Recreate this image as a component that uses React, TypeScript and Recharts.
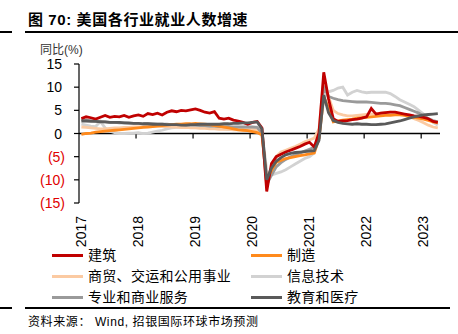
import { LineChart, Line, XAxis, YAxis, ReferenceLine } from "recharts";

// monthly, 2017-01 .. 2023-04, yoy %
const START_YEAR = 2017;
const YEAR_TICKS = [2017, 2018, 2019, 2020, 2021, 2022, 2023];
const Y_TICKS = [-15, -10, -5, 0, 5, 10, 15];

const construction = [
  3.2, 3.6, 3.4, 3.1, 3.5, 3.9, 3.5, 3.7, 3.6, 3.9, 3.5, 3.8,
  4.0, 3.7, 4.3, 4.1, 4.4, 4.0, 4.6, 4.9, 4.7, 5.0, 4.9, 5.1,
  5.3, 5.0, 4.6, 4.4, 4.7, 3.3, 3.1, 3.3, 2.9, 2.7, 2.4, 2.0,
  2.4, 2.6, 1.2, -12.5, -6.5, -5.0, -4.5, -4.0, -3.6, -3.2, -2.8, -2.3,
  -1.9, -2.9, 0.2, 13.2, 7.5, 3.2, 2.6, 2.7, 2.8, 3.0, 3.1, 3.3,
  3.6, 5.4, 4.2, 4.4, 4.5, 4.6, 4.6, 4.4, 4.2, 4.0, 3.8, 3.7,
  3.5, 3.2, 2.6, 2.4,
];

const manufacturing = [
  -0.2, 0.0, 0.1, 0.3, 0.4, 0.5, 0.6, 0.7, 0.8, 0.9, 1.0, 1.1,
  1.2, 1.3, 1.4, 1.5, 1.6, 1.7, 1.8, 1.9, 2.0, 2.0, 2.1, 2.1,
  2.2, 2.1, 2.0, 1.9, 1.7, 1.6, 1.4, 1.2, 1.0, 0.8, 0.7, 0.6,
  0.4, 0.2, -0.3, -10.0, -8.0, -6.2, -5.8, -5.4, -5.2, -5.0, -4.8, -4.6,
  -4.4, -4.2, -1.0, 8.0, 5.5, 2.5, 2.7, 2.9, 3.0, 3.1, 3.3, 3.4,
  3.5, 3.6, 3.7, 3.8, 3.9, 3.9, 4.0, 4.0, 3.9, 3.7, 3.5, 3.3,
  3.1, 2.8, 2.5, 2.3,
];

const tradeTransport = [
  1.4, 1.3, 1.2, 1.1, 1.0, 1.0, 1.1, 1.2, 1.2, 1.3, 1.3, 1.4,
  1.4, 1.5, 1.5, 1.6, 1.6, 1.5, 1.5, 1.4, 1.4, 1.3, 1.3, 1.2,
  1.2, 1.1, 1.1, 1.0, 1.0, 0.9, 0.9, 0.9, 0.8, 0.8, 0.8, 0.8,
  0.9, 0.8, 0.2, -11.5, -7.5, -5.0, -4.0, -3.6, -3.2, -2.8, -2.3, -1.8,
  -1.4, -1.0, 1.0, 11.4, 8.0, 5.0, 4.3, 4.0, 3.8, 3.8, 3.9, 4.0,
  4.1, 4.2, 4.3, 4.4, 4.5, 4.6, 4.5, 4.3, 4.0, 3.6, 3.2, 2.8,
  2.3, 1.8, 1.4, 1.2,
];

const infoTech = [
  2.0, 1.8, 1.6, 1.5, 2.6, 1.2, 0.5, 0.2, 0.0, 0.0, 0.1, 0.1,
  0.2, 0.0, 0.1, 0.3, 0.5, 0.7, 1.0, 1.2, 1.3, 1.4, 1.5, 1.6,
  1.5, 1.4, 1.3, 1.2, 1.3, 1.2, 1.0, 0.9, 1.0, 1.1, 1.0, 1.2,
  1.3, 1.4, 0.5, -8.0, -9.0, -8.6, -8.3, -7.8, -7.2, -6.6, -6.0, -5.4,
  -5.0, -4.2, -1.0, 7.5, 9.0, 9.3, 9.8, 10.0, 8.3, 8.9, 9.3, 9.0,
  8.8, 8.9, 8.9, 8.9, 8.9, 8.6, 8.0, 7.3, 6.8, 6.3, 5.8, 5.0,
  4.2, 3.2, 2.4, 1.8,
];

const profBusiness = [
  3.0, 2.9, 2.8, 2.7, 2.6, 2.5, 2.4, 2.4, 2.3, 2.3, 2.2, 2.2,
  2.2, 2.1, 2.1, 2.1, 2.0, 2.0, 2.0, 1.9, 1.9, 1.9, 1.8, 1.8,
  1.8, 1.7, 1.7, 1.6, 1.6, 1.5, 1.5, 1.5, 1.4, 1.4, 1.4, 1.4,
  1.4, 1.3, 0.0, -11.0, -9.0, -7.2, -6.3, -5.6, -5.0, -4.6, -4.2, -3.8,
  -3.4, -3.0, -1.0, 10.0, 8.0, 7.6, 7.3, 7.1, 7.0, 6.9, 6.8, 6.8,
  6.8, 6.7, 6.6, 6.5, 6.5, 6.4, 6.2, 6.0, 5.6, 5.2, 4.8, 4.4,
  3.8, 3.2, 2.8, 2.5,
];

const eduHealth = [
  2.7, 2.7, 2.6, 2.6, 2.5, 2.5, 2.4, 2.4, 2.4, 2.3, 2.3, 2.2,
  2.2, 2.1, 2.1, 2.0, 2.0, 2.0, 1.9, 1.9, 1.9, 1.8, 1.8, 1.9,
  1.9, 2.0, 2.0, 2.0, 2.0, 2.0, 2.1, 2.1, 2.2, 2.2, 2.3, 2.3,
  2.4, 2.5, 1.0, -10.0, -7.5, -6.0, -5.2, -4.6, -4.3, -4.1, -4.0, -3.9,
  -3.8, -3.7, -1.5, 8.3, 4.5, 2.8, 2.4, 2.2, 2.1, 2.0, 2.1, 2.0,
  2.0, 1.9, 1.9, 2.0, 2.1, 2.3, 2.5, 2.7, 3.0, 3.3, 3.6, 3.8,
  4.0, 4.1, 4.2, 4.3,
];

const SERIES = [
  { key: "infoTech", name: "信息技术", color: "#d2d2d2", values: infoTech },
  { key: "tradeTransport", name: "商贸、交运和公用事业", color: "#fbcaa2", values: tradeTransport },
  { key: "profBusiness", name: "专业和商业服务", color: "#9a9a9a", values: profBusiness },
  { key: "manufacturing", name: "制造", color: "#ff8a1c", values: manufacturing },
  { key: "construction", name: "建筑", color: "#c00000", values: construction },
  { key: "eduHealth", name: "教育和医疗", color: "#5a5a5a", values: eduHealth },
];

// legend order as in the reference (two columns)
const LEGEND_ORDER = [
  "construction", "manufacturing",
  "tradeTransport", "infoTech",
  "profBusiness", "eduHealth",
];

const chartData = construction.map((_, i) => {
  const row: Record<string, number> = { x: START_YEAR + (i + 0.5) / 12 };
  SERIES.forEach((s) => {
    row[s.key] = s.values[i];
  });
  return row;
});

const NUM_FONT = "'Liberation Sans', Arial, sans-serif";
const CJK_FONT = "'Liberation Sans', 'Noto Sans CJK SC', sans-serif";

function YTick(props: any) {
  const { x, y, payload } = props;
  const v = payload.value as number;
  const label = v < 0 ? `(${-v})` : `${v}`;
  return (
    <text
      x={v < 0 ? x + 3 : x}
      y={y}
      dy="0.36em"
      textAnchor="end"
      fontSize={14}
      fontFamily={NUM_FONT}
      fill={v < 0 ? "#e00000" : "#000"}
    >
      {label}
    </text>
  );
}

function XTick(props: any) {
  const { x, y, payload } = props;
  const tx = x + 7;
  return (
    <text
      x={tx}
      y={y}
      transform={`rotate(-90 ${tx} ${y})`}
      textAnchor="end"
      fontSize={14}
      fontFamily={NUM_FONT}
      fill="#000"
    >
      {payload.value}
    </text>
  );
}

export default function App() {
  const byKey = Object.fromEntries(SERIES.map((s) => [s.key, s]));
  return (
    <div
      style={{
        position: "absolute",
        left: 0,
        top: 0,
        width: 458,
        height: 334,
        background: "#fff",
        overflow: "hidden",
        fontFamily: CJK_FONT,
      }}
    >
      {/* title */}
      <div
        style={{
          position: "absolute",
          left: 28,
          top: 8,
          fontSize: 15,
          fontWeight: 700,
          letterSpacing: 0.6,
          color: "#000",
          whiteSpace: "nowrap",
        }}
      >
        图 70: 美国各行业就业人数增速
      </div>
      <div style={{ position: "absolute", left: 0, top: 31, width: 12, height: 2, background: "#000" }} />
      <div style={{ position: "absolute", left: 25, top: 31, width: 433, height: 2, background: "#000" }} />

      <div
        style={{
          position: "absolute",
          left: 40,
          top: 40,
          fontSize: 12,
          color: "#333",
          whiteSpace: "nowrap",
        }}
      >
        同比(%)
      </div>

      <div style={{ position: "absolute", left: 0, top: 0 }}>
        <LineChart
          width={458}
          height={334}
          data={chartData}
          margin={{ top: 64, right: 18, bottom: 91, left: 39 }}
        >
          <XAxis
            dataKey="x"
            type="number"
            domain={[2017, 2023.33]}
            ticks={YEAR_TICKS}
            axisLine={false}
            tickLine={false}
            height={40}
            tickMargin={7}
            tick={<XTick />}
            allowDataOverflow
          />
          <YAxis
            type="number"
            domain={[-15, 15]}
            ticks={Y_TICKS}
            width={40}
            axisLine={{ stroke: "#000", strokeWidth: 1.2 }}
            tickLine={{ stroke: "#000", strokeWidth: 1.2 }}
            tickSize={5}
            tickMargin={12}
            tick={<YTick />}
            interval={0}
          />
          <ReferenceLine y={0} stroke="#000" strokeWidth={1.5} />
          {YEAR_TICKS.slice(1).map((yr) => (
            <ReferenceLine
              key={yr}
              segment={[
                { x: yr, y: 0 },
                { x: yr, y: -1.1 },
              ]}
              stroke="#000"
              strokeWidth={1.2}
            />
          ))}
          {SERIES.map((s) => (
            <Line
              key={s.key}
              dataKey={s.key}
              name={s.name}
              stroke={s.color}
              strokeWidth={2.8}
              dot={false}
              type="linear"
              isAnimationActive={false}
            />
          ))}
        </LineChart>
      </div>

      {/* legend */}
      {LEGEND_ORDER.map((k, i) => {
        const s = byKey[k];
        const col = i % 2;
        const row = Math.floor(i / 2);
        const left = col === 0 ? 52 : 251;
        const top = 255 + row * 21;
        return (
          <div key={k}>
            <div
              style={{
                position: "absolute",
                left,
                top: top - 1.5,
                width: 31,
                height: 3,
                background: s.color,
              }}
            />
            <div
              style={{
                position: "absolute",
                left: left + 36,
                top: top - 10,
                fontSize: 14,
                letterSpacing: 0.3,
                lineHeight: "20px",
                color: "#000",
                whiteSpace: "nowrap",
              }}
            >
              {s.name}
            </div>
          </div>
        );
      })}

      <div style={{ position: "absolute", left: 0, top: 307, width: 12, height: 2, background: "#000" }} />
      <div style={{ position: "absolute", left: 25, top: 307, width: 425, height: 2, background: "#000" }} />

      <div
        style={{
          position: "absolute",
          left: 28,
          top: 312,
          fontSize: 12,
          letterSpacing: 0.6,
          color: "#000",
          whiteSpace: "nowrap",
        }}
      >
        资料来源： Wind, 招银国际环球市场预测
      </div>
    </div>
  );
}
